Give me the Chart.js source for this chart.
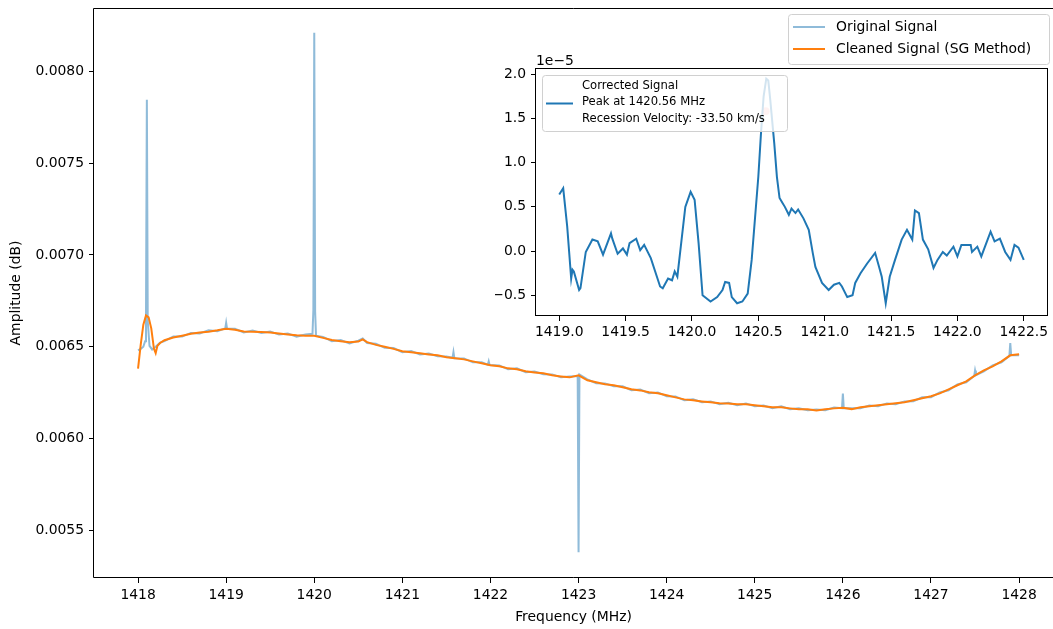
<!DOCTYPE html>
<html><head><meta charset="utf-8">
<script src="https://cdn.jsdelivr.net/npm/chart.js@4.4.1/dist/chart.umd.min.js"></script>
<style>
html,body{margin:0;padding:0;background:#fff;overflow:hidden;width:1053px;height:629px;}
#main{position:absolute;left:0;top:0;}
#inset{position:absolute;left:495px;top:40px;}
</style></head><body>
<canvas id="main" width="1053" height="629" style="width:1053px;height:629px"></canvas>
<canvas id="inset" width="558" height="310" style="width:558px;height:310px"></canvas>
<script>
// ---------- main chart data ----------
const origFreq = [1418.00,1418.03,1418.06,1418.08,1418.09,1418.10,1418.11,1418.13,1418.16,1418.20,1418.25,1418.3,1418.4,1418.5,1418.6,1418.7,1418.8,1418.9,1418.99,1419.00,1419.01,1419.1,1419.2,1419.3,1419.4,1419.5,1419.6,1419.7,1419.8,1419.9,1419.98,1419.99,1420.00,1420.01,1420.02,1420.1,1420.2,1420.3,1420.4,1420.5,1420.55,1420.6,1420.7,1420.8,1420.9,1421.0,1421.1,1421.2,1421.3,1421.4,1421.5,1421.57,1421.58,1421.59,1421.7,1421.8,1421.9,1421.97,1421.98,1421.99,1422.1,1422.2,1422.3,1422.4,1422.5,1422.6,1422.7,1422.8,1422.9,1422.99,1423.00,1423.01,1423.1,1423.2,1423.3,1423.4,1423.5,1423.6,1423.7,1423.8,1423.9,1424.0,1424.1,1424.2,1424.3,1424.4,1424.5,1424.6,1424.7,1424.8,1424.9,1425.0,1425.1,1425.2,1425.3,1425.4,1425.5,1425.6,1425.7,1425.8,1425.9,1425.99,1426.00,1426.01,1426.1,1426.2,1426.3,1426.4,1426.5,1426.6,1426.7,1426.8,1426.9,1427.0,1427.1,1427.2,1427.3,1427.4,1427.49,1427.50,1427.51,1427.6,1427.7,1427.8,1427.89,1427.90,1427.91,1428.0];
const origAmp = [0.006480,0.006488,0.006500,0.006530,0.006650,0.007845,0.006640,0.006505,0.006485,0.006500,0.006522,0.006530,0.006556,0.006555,0.006575,0.006572,0.006590,0.006584,0.006600,0.006630,0.006598,0.006598,0.006578,0.006588,0.006575,0.006583,0.006566,0.006572,0.006555,0.006566,0.006570,0.006700,0.008210,0.006690,0.006560,0.006553,0.006530,0.006536,0.006518,0.006533,0.006545,0.006520,0.006516,0.006494,0.006493,0.006470,0.006476,0.006458,0.006463,0.006448,0.006447,0.006440,0.006470,0.006437,0.006436,0.006415,0.006415,0.006402,0.006420,0.006400,0.006398,0.006377,0.006382,0.006361,0.006365,0.006350,0.006349,0.006333,0.006338,0.006340,0.005380,0.006348,0.006322,0.006301,0.006300,0.006285,0.006284,0.006263,0.006267,0.006247,0.006251,0.006230,0.006229,0.006208,0.006213,0.006197,0.006202,0.006187,0.006195,0.006181,0.006191,0.006176,0.006180,0.006165,0.006175,0.006159,0.006164,0.006154,0.006158,0.006154,0.006169,0.006165,0.006245,0.006166,0.006165,0.006165,0.006180,0.006176,0.006191,0.006187,0.006202,0.006203,0.006224,0.006225,0.006251,0.006263,0.006295,0.006306,0.006340,0.006370,0.006345,0.006366,0.006398,0.006415,0.006450,0.006520,0.006455,0.006454];

const cleanFreq = [1418.00,1418.03,1418.06,1418.09,1418.12,1418.15,1418.18,1418.20,1418.22,1418.25,1418.3,1418.4,1418.5,1418.6,1418.7,1418.8,1418.9,1419.0,1419.1,1419.2,1419.3,1419.4,1419.5,1419.6,1419.7,1419.8,1419.9,1420.0,1420.1,1420.2,1420.3,1420.4,1420.5,1420.55,1420.6,1420.7,1420.8,1420.9,1421.0,1421.1,1421.2,1421.3,1421.4,1421.5,1421.6,1421.7,1421.8,1421.9,1422.0,1422.1,1422.2,1422.3,1422.4,1422.5,1422.6,1422.7,1422.8,1422.9,1423.0,1423.1,1423.2,1423.3,1423.4,1423.5,1423.6,1423.7,1423.8,1423.9,1424.0,1424.1,1424.2,1424.3,1424.4,1424.5,1424.6,1424.7,1424.8,1424.9,1425.0,1425.1,1425.2,1425.3,1425.4,1425.5,1425.6,1425.7,1425.8,1425.9,1426.0,1426.1,1426.2,1426.3,1426.4,1426.5,1426.6,1426.7,1426.8,1426.9,1427.0,1427.1,1427.2,1427.3,1427.4,1427.5,1427.6,1427.7,1427.8,1427.9,1428.0];
const cleanAmp = [0.006380,0.006510,0.006620,0.006670,0.006660,0.006600,0.006490,0.006465,0.006505,0.006520,0.006535,0.006550,0.006560,0.006570,0.006577,0.006582,0.006589,0.006598,0.006592,0.006583,0.006582,0.006580,0.006577,0.006572,0.006567,0.006562,0.006560,0.006560,0.006548,0.006537,0.006530,0.006524,0.006528,0.006540,0.006525,0.006510,0.006500,0.006488,0.006475,0.006470,0.006464,0.006458,0.006453,0.006442,0.006437,0.006431,0.006420,0.006410,0.006399,0.006393,0.006382,0.006377,0.006366,0.006360,0.006355,0.006344,0.006338,0.006333,0.006344,0.006317,0.006306,0.006295,0.006290,0.006279,0.006268,0.006262,0.006252,0.006246,0.006235,0.006224,0.006213,0.006208,0.006202,0.006197,0.006192,0.006190,0.006186,0.006186,0.006181,0.006175,0.006170,0.006170,0.006164,0.006159,0.006159,0.006153,0.006159,0.006164,0.006168,0.006160,0.006170,0.006175,0.006181,0.006186,0.006192,0.006197,0.006208,0.006219,0.006230,0.006246,0.006268,0.006290,0.006311,0.006344,0.006371,0.006393,0.006420,0.006453,0.006459];

const mainXTicks = [1418,1419,1420,1421,1422,1423,1424,1425,1426,1427,1428];
const mainXTickLabels = ["1418","1419","1420","1421","1422","1423","1424","1425","1426","1427","1428"];
const mainYTicks = [0.0055,0.0060,0.0065,0.0070,0.0075,0.0080];
const mainYTickLabels = ["0.0055","0.0060","0.0065","0.0070","0.0075","0.0080"];
const mainLegendLabels = ["Original Signal","Cleaned Signal (SG Method)"];

// ---------- inset data (values in units of 1e-5) ----------
const insetFreq = [1419.00,1419.03,1419.06,1419.09,1419.10,1419.11,1419.15,1419.16,1419.20,1419.25,1419.29,1419.33,1419.39,1419.40,1419.44,1419.48,1419.51,1419.53,1419.58,1419.61,1419.64,1419.69,1419.76,1419.78,1419.82,1419.85,1419.87,1419.89,1419.95,1419.99,1420.02,1420.05,1420.08,1420.14,1420.19,1420.23,1420.25,1420.28,1420.30,1420.34,1420.38,1420.42,1420.45,1420.50,1420.52,1420.54,1420.56,1420.575,1420.59,1420.62,1420.64,1420.66,1420.68,1420.70,1420.73,1420.75,1420.78,1420.80,1420.84,1420.88,1420.91,1420.93,1420.98,1421.03,1421.07,1421.11,1421.13,1421.17,1421.21,1421.23,1421.27,1421.32,1421.38,1421.41,1421.43,1421.46,1421.49,1421.53,1421.58,1421.62,1421.66,1421.68,1421.71,1421.74,1421.78,1421.82,1421.85,1421.89,1421.92,1421.97,1422.00,1422.03,1422.10,1422.11,1422.15,1422.18,1422.25,1422.28,1422.32,1422.36,1422.40,1422.43,1422.46,1422.50];
const insetAmp = [0.64,0.71,0.28,-0.31,-0.21,-0.23,-0.44,-0.42,-0.01,0.13,0.11,-0.04,0.20,0.14,-0.03,0.03,-0.04,0.09,0.14,0.01,0.07,-0.08,-0.40,-0.42,-0.31,-0.33,-0.23,-0.29,0.50,0.67,0.58,0.09,-0.50,-0.57,-0.52,-0.44,-0.35,-0.36,-0.52,-0.59,-0.57,-0.48,-0.10,0.84,1.33,1.75,1.95,1.93,1.71,1.22,0.84,0.60,0.55,0.50,0.41,0.48,0.43,0.47,0.37,0.24,-0.02,-0.18,-0.36,-0.44,-0.38,-0.36,-0.40,-0.52,-0.50,-0.36,-0.25,-0.14,-0.02,-0.18,-0.29,-0.59,-0.29,-0.10,0.13,0.24,0.13,0.46,0.43,0.13,0.02,-0.19,-0.10,-0.01,-0.05,0.05,-0.06,0.07,0.07,-0.01,0.05,-0.06,0.22,0.11,0.14,-0.01,-0.10,0.07,0.04,-0.10];
const peakFreq = [1420.555];
const peakAmp = [1.58];
const insetXTicks = [1419.0,1419.5,1420.0,1420.5,1421.0,1421.5,1422.0,1422.5];
const insetXTickLabels = ["1419.0","1419.5","1420.0","1420.5","1421.0","1421.5","1422.0","1422.5"];
const insetYTicks = [-0.5,0.0,0.5,1.0,1.5,2.0];
const insetYTickLabels = ["\u22120.5","0.0","0.5","1.0","1.5","2.0"];
const insetOffsetText = "1e\u22125";
const insetLegendLines = ["Corrected Signal","Peak at 1420.56 MHz","Recession Velocity: -33.50 km/s"];

// ---------- helpers ----------
const FONT = '"DejaVu Sans", "Liberation Sans", sans-serif';
Chart.defaults.font.family = FONT;
Chart.defaults.color = '#000';
const pts = (xs, ys) => xs.map((x, i) => ({x: x, y: ys[i]}));

function roundRect(ctx, x, y, w, h, r) {
  ctx.beginPath();
  ctx.moveTo(x + r, y);
  ctx.lineTo(x + w - r, y); ctx.quadraticCurveTo(x + w, y, x + w, y + r);
  ctx.lineTo(x + w, y + h - r); ctx.quadraticCurveTo(x + w, y + h, x + w - r, y + h);
  ctx.lineTo(x + r, y + h); ctx.quadraticCurveTo(x, y + h, x, y + h - r);
  ctx.lineTo(x, y + r); ctx.quadraticCurveTo(x, y, x + r, y);
  ctx.closePath();
}
function frame(ctx, a, drawRight) {
  ctx.save();
  ctx.strokeStyle = '#000'; ctx.lineWidth = 1;
  const l = Math.round(a.left) - 0.5, t = Math.round(a.top) + 0.5;
  const r = Math.round(a.right) + 0.5, b = Math.round(a.bottom) - 0.5;
  ctx.beginPath();
  ctx.moveTo(r + 10, t); ctx.lineTo(l, t); ctx.lineTo(l, b); ctx.lineTo(r + 10, b);
  ctx.stroke();
  if (drawRight) { ctx.beginPath(); ctx.moveTo(r, t); ctx.lineTo(r, b); ctx.stroke(); }
  ctx.restore();
}
const noPad = s => { s.paddingTop = 0; s.paddingBottom = 0; s.paddingLeft = 0; s.paddingRight = 0; };

const mainPlugin = {
  id: 'mainDeco',
  afterDraw(chart) {
    const ctx = chart.ctx, a = chart.chartArea;
    frame(ctx, a, false);
    // legend (upper right)
    const w = 261, h = 50;
    const x = a.right - 4 - w, y = a.top + 6;
    ctx.save();
    roundRect(ctx, x + 0.5, y + 0.5, w, h, 3);
    ctx.fillStyle = 'rgba(255,255,255,0.8)'; ctx.fill();
    ctx.strokeStyle = '#d0d0d0'; ctx.lineWidth = 1; ctx.stroke();
    const colors = ['rgba(31,119,180,0.5)', '#ff7f0e'];
    ctx.font = '13.9px ' + FONT; ctx.textBaseline = 'middle'; ctx.fillStyle = '#000';
    mainLegendLabels.forEach((t, i) => {
      const cy = y + 13 + i * 22;
      ctx.beginPath(); ctx.moveTo(x + 5, cy); ctx.lineTo(x + 37, cy);
      ctx.strokeStyle = colors[i]; ctx.lineWidth = 2; ctx.stroke();
      ctx.fillText(t, x + 48, cy);
    });
    ctx.restore();
  }
};

new Chart(document.getElementById('main'), {
  type: 'line',
  data: { datasets: [
    { label: mainLegendLabels[0], data: pts(origFreq, origAmp), borderColor: 'rgba(31,119,180,0.5)', borderWidth: 2, pointRadius: 0, tension: 0, order: 2 },
    { label: mainLegendLabels[1], data: pts(cleanFreq, cleanAmp), borderColor: '#ff7f0e', borderWidth: 2, pointRadius: 0, tension: 0, order: 1 }
  ]},
  options: {
    responsive: false, animation: false, devicePixelRatio: 1, events: [],
    layout: { padding: { top: 8, right: 0, left: 0, bottom: 0 } },
    plugins: { legend: { display: false }, tooltip: { enabled: false } },
    scales: {
      x: {
        type: 'linear', min: 1417.5, max: 1428.385,
        afterBuildTicks: s => { s.ticks = mainXTicks.map(v => ({value: v})); },
        afterFit: s => { s.height = 51; noPad(s); },
        ticks: { callback: (v, i) => mainXTickLabels[i], font: { size: 13.9 }, padding: 4, maxRotation: 0, autoSkip: false },
        grid: { display: true, drawOnChartArea: false, drawTicks: true, tickLength: 5, tickColor: '#000', tickWidth: 1 },
        border: { display: false },
        title: { display: true, text: 'Frequency (MHz)', font: { size: 13.9 }, padding: { top: 0, bottom: 3 } }
      },
      y: {
        type: 'linear', min: 0.00524, max: 0.008345,
        afterBuildTicks: s => { s.ticks = mainYTicks.map(v => ({value: v})); },
        afterFit: s => { s.width = 94; noPad(s); },
        ticks: { callback: (v, i) => mainYTickLabels[i], font: { size: 13.9 }, padding: 5, autoSkip: false },
        grid: { display: true, drawOnChartArea: false, drawTicks: true, tickLength: 5, tickColor: '#000', tickWidth: 1 },
        border: { display: false },
        title: { display: true, text: 'Amplitude (dB)', font: { size: 13.9 }, padding: { top: 8, bottom: 0 } }
      }
    }
  },
  plugins: [mainPlugin]
});

const insetPlugin = {
  id: 'insetDeco',
  beforeDraw(chart) {
    const ctx = chart.ctx, a = chart.chartArea;
    ctx.save(); ctx.fillStyle = '#fff';
    ctx.fillRect(a.left, a.top, a.right - a.left, a.bottom - a.top);
    ctx.restore();
  },
  afterDraw(chart) {
    const ctx = chart.ctx, a = chart.chartArea;
    ctx.save();
    ctx.strokeStyle = '#000'; ctx.lineWidth = 1;
    ctx.strokeRect(Math.round(a.left) - 0.5, Math.round(a.top) + 0.5, Math.round(a.right - a.left) + 1, Math.round(a.bottom - a.top) - 1);
    ctx.font = '13.9px ' + FONT; ctx.fillStyle = '#000';
    ctx.textBaseline = 'alphabetic'; ctx.textAlign = 'left';
    ctx.fillText(insetOffsetText, a.left, a.top - 3);
    // legend (upper left)
    const x = a.left + 6, y = a.top + 7, w = 245, h = 56;
    roundRect(ctx, x + 0.5, y + 0.5, w, h, 3);
    ctx.fillStyle = 'rgba(255,255,255,0.8)'; ctx.fill();
    ctx.strokeStyle = '#d0d0d0'; ctx.lineWidth = 1; ctx.stroke();
    ctx.beginPath(); ctx.moveTo(x + 4, y + 28.5); ctx.lineTo(x + 31, y + 28.5);
    ctx.strokeStyle = '#1f77b4'; ctx.lineWidth = 2; ctx.stroke();
    ctx.font = '11.6px ' + FONT; ctx.fillStyle = '#000'; ctx.textBaseline = 'middle';
    insetLegendLines.forEach((t, i) => ctx.fillText(t, x + 40, y + 11 + i * 16.3));
    ctx.restore();
  }
};

new Chart(document.getElementById('inset'), {
  type: 'line',
  data: { datasets: [
    { label: 'Corrected Signal', data: pts(insetFreq, insetAmp), borderColor: '#1f77b4', borderWidth: 2, pointRadius: 0, tension: 0, order: 1 },
    { type: 'scatter', label: 'Peak', data: pts(peakFreq, peakAmp), backgroundColor: 'rgba(255,0,0,0.25)', borderWidth: 0, pointRadius: 4, order: 2 }
  ]},
  options: {
    responsive: false, animation: false, devicePixelRatio: 1, events: [],
    layout: { padding: { top: 28, right: 6, left: 0, bottom: 0 } },
    plugins: { legend: { display: false }, tooltip: { enabled: false } },
    scales: {
      x: {
        type: 'linear', min: 1418.825, max: 1422.675,
        afterBuildTicks: s => { s.ticks = insetXTicks.map(v => ({value: v})); },
        afterFit: s => { s.height = 34; noPad(s); },
        ticks: { callback: (v, i) => insetXTickLabels[i], font: { size: 13.9 }, padding: 3, maxRotation: 0, autoSkip: false },
        grid: { display: true, drawOnChartArea: false, drawTicks: true, tickLength: 5, tickColor: '#000', tickWidth: 1 },
        border: { display: false }
      },
      y: {
        type: 'linear', min: -0.734, max: 2.07,
        afterBuildTicks: s => { s.ticks = insetYTicks.map(v => ({value: v})); },
        afterFit: s => { s.width = 41; noPad(s); },
        ticks: { callback: (v, i) => insetYTickLabels[i], font: { size: 13.9 }, padding: 5, autoSkip: false },
        grid: { display: true, drawOnChartArea: false, drawTicks: true, tickLength: 5, tickColor: '#000', tickWidth: 1 },
        border: { display: false }
      }
    }
  },
  plugins: [insetPlugin]
});
</script></body></html>
